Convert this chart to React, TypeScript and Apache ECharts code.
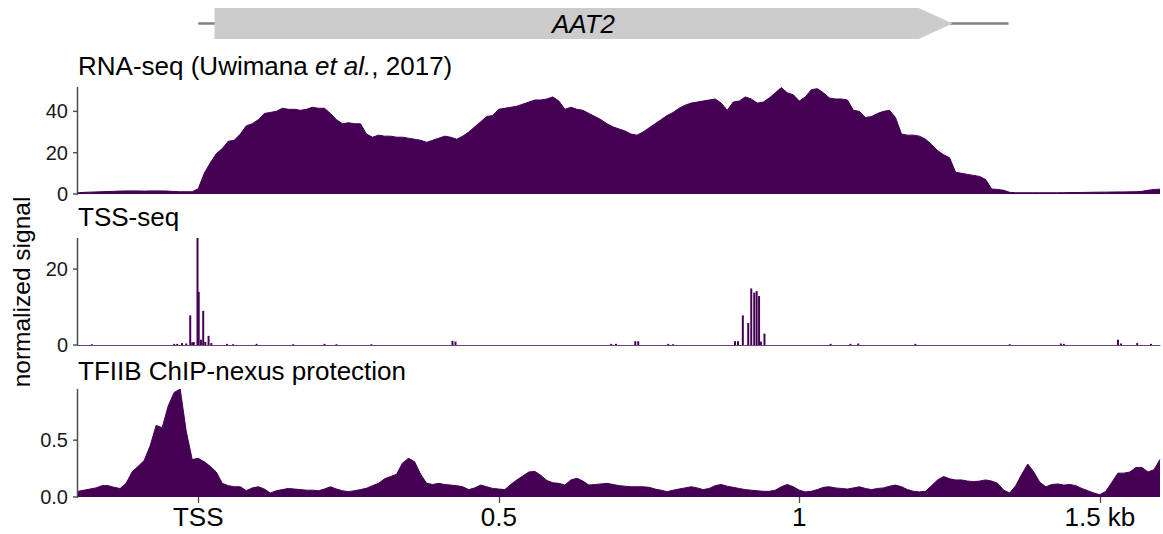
import React, { useEffect, useRef } from "react";
import * as echarts from "echarts";

// ---------- data ----------
const X_MIN = -0.2;
const X_MAX = 1.6;
const BIN_START = -0.2; // kb, first bin of the coverage tracks
const BIN_STEP = 0.01; // kb per bin

// RNA-seq coverage (Uwimana et al., 2017), one value per 10 bp bin from -0.2 kb to 1.6 kb
const rnaSeq = [
  0.6, 0.8, 0.9, 1.0, 1.1, 1.2, 1.3, 1.4, 1.5, 1.5,
  1.5, 1.4, 1.5, 1.5, 1.5, 1.4, 1.2, 1.1, 1.1, 1.1,
  2.5, 10, 15, 19.5, 22, 25.5, 26, 29, 33, 34,
  36, 39, 39.5, 40, 41.5, 41, 41, 40.5, 41, 42,
  41.5, 41.5, 39, 36, 34, 34.5, 34, 34, 29, 27.5,
  28.5, 28, 28, 27.5, 27.5, 27, 26.5, 26, 25, 26,
  27, 28, 27.5, 26.5, 28, 30, 32.5, 35, 37.5, 38,
  41, 41.5, 42, 42.5, 43.5, 44.5, 45.5, 45.5, 46, 47,
  45, 41, 42, 41, 40.5, 39, 37.5, 36, 34, 32.5,
  31.5, 30.5, 29, 28.5, 30, 32, 34, 36, 38, 39.5,
  41.5, 43, 44, 44.5, 45, 45.5, 46, 44, 40.5, 44.5,
  45, 47, 46, 44, 44.5, 46.5, 49, 51.5, 49, 48,
  45, 47, 50.5, 51, 49, 46.5, 46, 46, 45.5, 40.5,
  40, 37, 37.5, 39, 40, 40.5, 37, 29, 28.5, 28.5,
  28, 26.5, 24, 21, 19, 17.5, 10.5, 10, 9.5, 9,
  8.5, 7, 2.4, 2.2, 1.8, 0.8, 0.6, 0.6, 0.6, 0.6,
  0.6, 0.6, 0.6, 0.6, 0.65, 0.7, 0.7, 0.75, 0.8, 0.85,
  0.9, 0.9, 0.95, 1.0, 1.0, 1.05, 1.1, 1.3, 1.8, 2.2,
  2.3,
];

// TFIIB ChIP-nexus protection, same bins
const tfiib = [
  0.05, 0.06, 0.07, 0.08, 0.1, 0.1, 0.085, 0.075, 0.12, 0.22,
  0.27, 0.32, 0.45, 0.63, 0.61, 0.8, 0.92, 0.95, 0.58, 0.33,
  0.34, 0.31, 0.27, 0.22, 0.12, 0.1, 0.09, 0.09, 0.056, 0.08,
  0.09, 0.07, 0.035, 0.055, 0.065, 0.075, 0.07, 0.065, 0.06, 0.06,
  0.055, 0.07, 0.09, 0.07, 0.055, 0.047, 0.055, 0.065, 0.077, 0.1,
  0.12, 0.16, 0.18, 0.2, 0.3, 0.34, 0.31, 0.2, 0.12, 0.11,
  0.12, 0.11, 0.105, 0.1, 0.09, 0.065, 0.08, 0.105, 0.09, 0.075,
  0.07, 0.065, 0.11, 0.15, 0.185, 0.22, 0.225, 0.19, 0.145, 0.125,
  0.12, 0.105, 0.15, 0.165, 0.14, 0.105, 0.11, 0.115, 0.12, 0.11,
  0.1, 0.095, 0.09, 0.09, 0.09, 0.085, 0.07, 0.06, 0.047, 0.06,
  0.07, 0.08, 0.09, 0.08, 0.065, 0.075, 0.1, 0.11, 0.095, 0.085,
  0.075, 0.065, 0.06, 0.055, 0.05, 0.05, 0.06, 0.09, 0.11, 0.09,
  0.06, 0.045, 0.05, 0.065, 0.085, 0.09, 0.08, 0.075, 0.07, 0.08,
  0.09, 0.075, 0.065, 0.075, 0.08, 0.095, 0.105, 0.09, 0.065, 0.05,
  0.045, 0.05, 0.1, 0.15, 0.18, 0.16, 0.15, 0.15, 0.14, 0.135,
  0.14, 0.15, 0.14, 0.12, 0.06, 0.035, 0.1, 0.2, 0.29, 0.22,
  0.13, 0.09, 0.11, 0.115, 0.105, 0.11, 0.1, 0.075, 0.055, 0.035,
  0.02, 0.05, 0.13, 0.21, 0.21, 0.22, 0.26, 0.26, 0.22, 0.24,
  0.33,
];

// TSS-seq: sparse single-position signal (position in kb, value)
const tssPos = [
  -0.177, -0.04, -0.035, -0.027, -0.02, -0.0133, -0.01, -0.0075, -0.0012, 0.0008,
  0.0045, 0.0083, 0.0117, 0.0172, 0.0217, 0.048, 0.058, 0.097, 0.158, 0.21,
  0.23, 0.288, 0.423, 0.428, 0.687, 0.695, 0.727, 0.732, 0.782, 0.79,
  0.893, 0.898, 0.906, 0.915, 0.92, 0.925, 0.929, 0.933, 0.936, 0.942,
  1.052, 1.085, 1.098, 1.193, 1.35, 1.435, 1.44, 1.53, 1.535, 1.562, 1.585,
];
const tssVal = [
  0.2, 0.3, 0.3, 0.5, 0.4, 7.8, 0.7, 0.8, 28.2, 14,
  1.4, 9, 0.8, 2.4, 0.5, 0.3, 0.2, 0.3, 0.2, 0.3,
  0.2, 0.2, 1.1, 0.9, 0.3, 0.3, 1.0, 1.0, 0.3, 0.2,
  1.0, 1.0, 7.8, 5.8, 14.9, 13.8, 14.2, 12.9, 0.9, 3.0,
  0.3, 0.3, 0.4, 0.3, 0.2, 0.4, 0.3, 1.4, 0.4, 0.5, 0.3,
];

const panelTitles = ["RNA-seq (Uwimana ", "et al.", ", 2017)", "TSS-seq", "TFIIB ChIP-nexus protection"];
const yAxisTitle = "normalized signal";
const rnaMax = 51.8;
const tssMax = 28.2;
const tfMax = 0.95;
const rnaTicks = [0, 20, 40];
const tssTicks = [0, 20];
const tfTicks = [0, 0.5];
const xTickValues = [0, 0.5, 1, 1.5];
const xTickLabels = ["TSS", "0.5", "1", "1.5 kb"];

// gene model (kb): transcript line and coding body with arrow
const geneName = "AAT2";
const geneTx = [0.0, 1.348];
const geneBody = [0.027, 1.255];

// ---------- style ----------
const PURPLE = "#440154";
const FONT = "'Liberation Sans', Arial, Helvetica, sans-serif";
const AXIS_GRAY = "#4d4d4d";
const LEFT = 78;
const WIDTH = 1082;
const TICK_LEN = 5;

export default function App() {
  const ref = useRef<HTMLDivElement>(null);

  useEffect(() => {
    const chart = echarts.init(ref.current!, null, { renderer: "svg" });

    const binX = (i: number) => +(BIN_START + BIN_STEP * i).toFixed(4);
    const rnaData = rnaSeq.map((v, i) => [binX(i), v]);
    const tfData = tfiib.map((v, i) => [binX(i), v]);
    const tssData = tssPos.map((p, i) => [p, tssVal[i]]);

    const yAxis = (gridIndex: number, max: number, ticks: number[], digits: number) => ({
      type: "value",
      gridIndex,
      min: 0,
      max,
      position: "left",
      axisLine: { show: false },
      axisTick: { show: false },
      axisLabel: {
        customValues: ticks,
        formatter: (v: number) => v.toFixed(digits),
        fontSize: 20,
        fontFamily: FONT,
        color: "#1a1a1a",
        margin: 10,
      },
      splitLine: { show: false },
    });

    const hiddenX = (gridIndex: number) => ({
      type: "value",
      gridIndex,
      min: X_MIN,
      max: X_MAX,
      show: false,
    });

    const textGraphics: any[] = [
      {
        type: "text",
        left: LEFT,
        top: 53,
        style: {
          text: `{n|${panelTitles[0]}}{i|${panelTitles[1]}}{n|${panelTitles[2]}}`,
          rich: {
            n: { fontSize: 26, fontFamily: FONT, fill: "#000" },
            i: { fontSize: 26, fontFamily: FONT, fontStyle: "italic", fill: "#000" },
          },
        },
      },
      {
        type: "text",
        x: LEFT,
        y: 216.5,
        style: { text: panelTitles[3], fontSize: 26, fontFamily: FONT, fill: "#000", verticalAlign: "middle" },
      },
      {
        type: "text",
        x: LEFT,
        y: 371,
        style: { text: panelTitles[4], fontSize: 26, fontFamily: FONT, fill: "#000", verticalAlign: "middle" },
      },
      {
        type: "text",
        x: 21,
        y: 292,
        rotation: Math.PI / 2,
        style: {
          text: yAxisTitle,
          fontSize: 24.5,
          fontFamily: FONT,
          fill: "#000",
          align: "center",
          verticalAlign: "middle",
        },
      },
    ];

    const option: any = {
      animation: false,
      backgroundColor: "#ffffff",
      grid: [
        { left: LEFT, width: WIDTH, top: 87, height: 107 },
        { left: LEFT, width: WIDTH, top: 238, height: 107 },
        { left: LEFT, width: WIDTH, top: 389, height: 108 },
        { left: LEFT, width: WIDTH, top: 8, height: 31 },
      ],
      xAxis: [
        hiddenX(0),
        {
          type: "value",
          gridIndex: 1,
          min: X_MIN,
          max: X_MAX,
          axisLine: { show: true, onZero: false, lineStyle: { color: PURPLE, width: 1, opacity: 0.75 } },
          axisTick: { show: false },
          axisLabel: { show: false },
          splitLine: { show: false },
        },
        {
          type: "value",
          gridIndex: 2,
          min: X_MIN,
          max: X_MAX,
          axisLine: { show: false, onZero: false },
          axisTick: { show: true, length: 6, lineStyle: { color: AXIS_GRAY, width: 1.3 }, customValues: xTickValues },
          axisLabel: {
            customValues: xTickValues,
            formatter: (v: number) => {
              const k = xTickValues.findIndex((t) => Math.abs(t - v) < 1e-6);
              return k >= 0 ? xTickLabels[k] : "";
            },
            fontSize: 26,
            fontFamily: FONT,
            color: "#000",
            margin: 7,
          },
          splitLine: { show: false },
        },
        hiddenX(3),
      ],
      yAxis: [
        yAxis(0, rnaMax, rnaTicks, 0),
        yAxis(1, tssMax, tssTicks, 0),
        yAxis(2, tfMax, tfTicks, 1),
        { type: "value", gridIndex: 3, min: 0, max: 1, show: false },
      ],
      series: [
        {
          type: "line",
          xAxisIndex: 0,
          yAxisIndex: 0,
          data: rnaData,
          symbol: "none",
          lineStyle: { color: PURPLE, width: 1 },
          areaStyle: { color: PURPLE, opacity: 1 },
          silent: true,
        },
        {
          type: "bar",
          xAxisIndex: 1,
          yAxisIndex: 1,
          data: tssData,
          barWidth: 2,
          itemStyle: { color: PURPLE },
          silent: true,
        },
        {
          type: "line",
          xAxisIndex: 2,
          yAxisIndex: 2,
          data: tfData,
          symbol: "none",
          lineStyle: { color: PURPLE, width: 1 },
          areaStyle: { color: PURPLE, opacity: 1 },
          silent: true,
        },
        {
          type: "custom",
          xAxisIndex: 3,
          yAxisIndex: 3,
          silent: true,
          data: [[geneTx[0], geneTx[1], geneBody[0], geneBody[1]]],
          encode: { x: [0, 1, 2, 3] },
          renderItem: (params: any, api: any) => {
            const tx0 = api.coord([api.value(0), 0.5]);
            const tx1 = api.coord([api.value(1), 0.5]);
            const b0 = api.coord([api.value(2), 1]);
            const b1 = api.coord([api.value(3), 0]);
            const cy = tx0[1];
            const top = b0[1];
            const bottom = b1[1];
            const head = 34;
            return {
              type: "group",
              children: [
                {
                  type: "line",
                  shape: { x1: tx0[0], y1: cy, x2: tx1[0], y2: cy },
                  style: { stroke: "#808080", lineWidth: 2.5 },
                },
                {
                  type: "polygon",
                  shape: {
                    points: [
                      [b0[0], top],
                      [b1[0] - head, top],
                      [b1[0], cy],
                      [b1[0] - head, bottom],
                      [b0[0], bottom],
                    ],
                  },
                  style: { fill: "#cccccc" },
                },
                {
                  type: "text",
                  x: (b0[0] + b1[0]) / 2,
                  y: cy,
                  style: {
                    text: geneName,
                    fontSize: 26,
                    fontStyle: "italic",
                    fontFamily: FONT,
                    fill: "#000",
                    align: "center",
                    verticalAlign: "middle",
                  },
                },
              ],
            };
          },
        },
      ],
      graphic: textGraphics,
    };

    chart.setOption(option);

    // left axis lines and ticks, placed through each panel's scales
    const panels = [
      { grid: 0, max: rnaMax, ticks: rnaTicks },
      { grid: 1, max: tssMax, ticks: tssTicks },
      { grid: 2, max: tfMax, ticks: tfTicks },
    ];
    const axisGraphics: any[] = [];
    panels.forEach((pn) => {
      const a = chart.convertToPixel({ gridIndex: pn.grid } as any, [X_MIN, 0]) as number[];
      const b = chart.convertToPixel({ gridIndex: pn.grid } as any, [X_MIN, pn.max]) as number[];
      if (!a || !b) return;
      axisGraphics.push({
        type: "line",
        z: 100,
        silent: true,
        shape: { x1: a[0] - 0.5, y1: a[1] + 0.7, x2: b[0] - 0.5, y2: b[1] },
        style: { stroke: AXIS_GRAY, lineWidth: 1.5 },
      });
      pn.ticks.forEach((t) => {
        const p = chart.convertToPixel({ gridIndex: pn.grid } as any, [X_MIN, t]) as number[];
        axisGraphics.push({
          type: "line",
          z: 100,
          silent: true,
          shape: { x1: p[0] - TICK_LEN, y1: p[1], x2: p[0], y2: p[1] },
          style: { stroke: AXIS_GRAY, lineWidth: 1.4 },
        });
      });
    });
    chart.setOption({ graphic: [...textGraphics, ...axisGraphics] });

    return () => chart.dispose();
  }, []);

  return (
    <div
      ref={ref}
      style={{ position: "fixed", left: 0, top: 0, width: 1163, height: 534, background: "#fff" }}
    />
  );
}
